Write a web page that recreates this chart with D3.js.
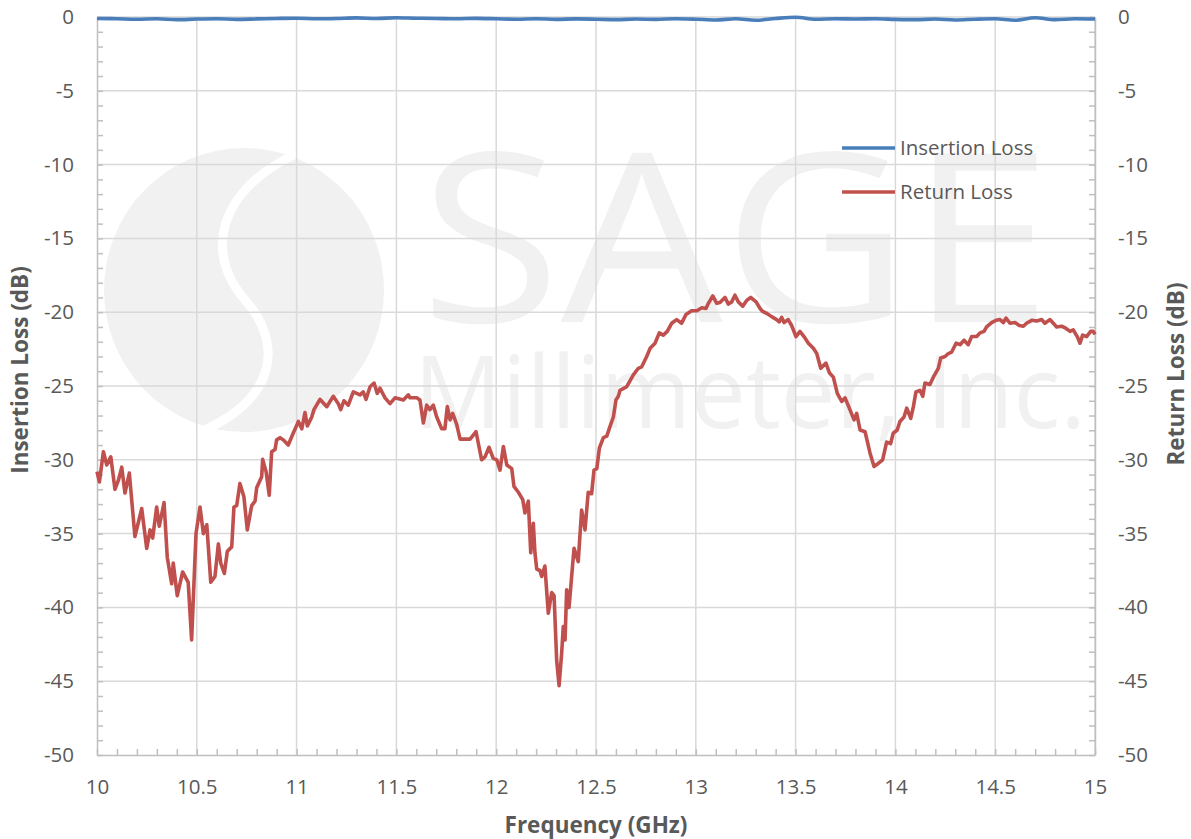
<!DOCTYPE html>
<html>
<head>
<meta charset="utf-8">
<script src="https://cdn.jsdelivr.net/npm/d3@7"></script>
<style>
  body { margin: 0; background: #fff; }
  svg text { font-family: "Open Sans", "DejaVu Sans", sans-serif; }
</style>
</head>
<body>
<svg id="chart" width="1191" height="839"></svg>
<script>
// insertion loss, one point every 0.1 GHz from 10 to 15
var ilFreq = d3.range(0, 51).map(function(i){ return +(10 + i * 0.1).toFixed(1); });
var ilValues = [-0.10,-0.12,-0.15,-0.12,-0.18,-0.14,-0.12,-0.16,-0.13,-0.10,
                -0.08,-0.12,-0.10,-0.06,-0.10,-0.05,-0.08,-0.10,-0.12,-0.09,
                -0.12,-0.15,-0.12,-0.16,-0.13,-0.15,-0.18,-0.14,-0.16,-0.12,
                -0.15,-0.20,-0.12,-0.22,-0.10,-0.02,-0.15,-0.12,-0.14,-0.12,
                -0.16,-0.18,-0.14,-0.20,-0.15,-0.12,-0.22,-0.05,-0.18,-0.12,-0.14];

// return loss
var rlFreq = [10.000,10.012,10.032,10.049,10.069,10.090,10.107,10.124,10.140,10.162,
  10.190,10.224,10.249,10.266,10.279,10.299,10.312,10.336,10.352,10.374,10.382,10.402,
  10.429,10.457,10.474,10.496,10.516,10.533,10.550,10.570,10.591,10.608,10.620,10.638,
  10.653,10.675,10.686,10.700,10.716,10.736,10.753,10.775,10.792,10.800,10.825,10.830,
  10.847,10.863,10.875,10.892,10.900,10.917,10.933,10.958,10.983,11.009,11.026,11.042,
  11.054,11.076,11.087,11.117,11.151,11.184,11.209,11.221,11.237,11.259,11.284,11.318,
  11.334,11.348,11.368,11.388,11.404,11.418,11.443,11.468,11.493,11.535,11.560,11.568,
  11.602,11.618,11.635,11.652,11.668,11.685,11.702,11.727,11.743,11.755,11.769,11.782,
  11.802,11.819,11.869,11.899,11.927,11.944,11.964,11.985,12.003,12.019,12.036,12.053,
  12.078,12.089,12.111,12.133,12.144,12.161,12.173,12.186,12.194,12.203,12.219,12.228,
  12.244,12.261,12.278,12.290,12.303,12.315,12.328,12.336,12.345,12.353,12.365,12.378,
  12.390,12.411,12.428,12.445,12.461,12.478,12.490,12.504,12.517,12.537,12.554,12.570,
  12.587,12.600,12.612,12.620,12.654,12.687,12.712,12.729,12.754,12.771,12.796,12.817,
  12.837,12.857,12.879,12.904,12.929,12.951,12.979,13.005,13.030,13.051,13.063,13.085,
  13.105,13.121,13.146,13.163,13.180,13.196,13.213,13.235,13.255,13.275,13.302,13.322,
  13.335,13.358,13.380,13.405,13.418,13.430,13.442,13.463,13.480,13.502,13.522,13.542,
  13.564,13.589,13.606,13.626,13.652,13.669,13.689,13.709,13.731,13.748,13.769,13.793,
  13.806,13.823,13.848,13.873,13.893,13.914,13.936,13.956,13.976,13.989,14.009,14.023,
  14.043,14.057,14.077,14.090,14.103,14.123,14.137,14.148,14.173,14.190,14.215,14.227,
  14.249,14.265,14.282,14.304,14.324,14.344,14.365,14.382,14.407,14.424,14.444,14.457,
  14.482,14.504,14.524,14.541,14.554,14.574,14.599,14.621,14.641,14.657,14.683,14.708,
  14.733,14.749,14.774,14.791,14.808,14.833,14.855,14.875,14.891,14.911,14.925,14.938,
  14.958,14.978,14.991,15.000];
var rlValues = [-30.8,-31.5,-29.45,-30.35,-29.8,-32.0,-31.4,-30.5,-32.25,-30.9,
  -35.2,-33.3,-36.0,-34.75,-35.3,-33.2,-34.5,-32.9,-36.6,-38.4,-37.0,-39.2,
  -37.6,-38.3,-42.2,-35.0,-33.2,-35.0,-34.4,-38.3,-37.9,-35.7,-37.0,-37.7,
  -36.2,-35.9,-33.2,-33.1,-31.6,-32.5,-34.75,-33.1,-32.8,-31.9,-31.15,-29.97,
  -30.8,-32.4,-29.45,-29.3,-28.65,-28.5,-28.65,-29.0,-28.2,-27.4,-27.9,-26.8,
  -27.7,-27.1,-26.6,-25.9,-26.4,-25.7,-26.2,-26.6,-26.0,-26.3,-25.4,-25.6,
  -25.4,-25.9,-25.05,-24.8,-25.5,-25.15,-25.8,-26.2,-25.8,-25.95,-25.6,-25.8,
  -25.8,-25.95,-27.5,-26.3,-26.6,-26.3,-27.1,-27.9,-27.9,-26.4,-27.3,-26.85,
  -27.6,-28.6,-28.6,-28.1,-30.0,-29.8,-29.15,-29.9,-30.0,-30.7,-29.1,-30.35,
  -30.6,-31.8,-32.2,-32.7,-33.6,-32.8,-36.3,-34.3,-36.3,-37.4,-37.5,-37.9,
  -37.2,-40.4,-39.0,-39.2,-43.6,-45.3,-43.1,-41.3,-42.2,-38.8,-40.0,-37.9,
  -36.0,-36.9,-33.4,-34.75,-32.2,-32.3,-30.7,-30.6,-29.2,-28.5,-28.4,-27.75,
  -27.1,-25.95,-25.7,-25.3,-25.05,-24.25,-23.8,-23.7,-23.0,-22.45,-22.1,-21.4,
  -21.55,-21.3,-20.75,-20.5,-20.75,-20.15,-19.9,-19.9,-19.7,-19.75,-19.4,-18.9,
  -19.4,-19.35,-19.0,-19.45,-19.3,-18.85,-19.3,-19.6,-19.2,-19.0,-19.3,-19.75,
  -19.95,-20.1,-20.3,-20.5,-20.65,-20.35,-20.7,-20.5,-20.9,-21.65,-21.3,-21.65,
  -22.1,-22.45,-22.8,-23.8,-23.45,-24.1,-24.4,-25.5,-26.05,-25.8,-26.5,-27.3,
  -26.85,-27.98,-28.1,-29.55,-30.45,-30.25,-30.0,-28.8,-28.9,-28.2,-27.98,-27.4,
  -27.1,-26.5,-27.2,-26.4,-25.4,-25.3,-25.7,-24.8,-24.9,-24.4,-23.8,-23.1,
  -23.0,-22.8,-22.7,-22.1,-22.2,-21.9,-22.2,-21.65,-21.65,-21.4,-21.3,-21.0,
  -20.7,-20.55,-20.5,-20.7,-20.4,-20.75,-20.7,-20.9,-20.95,-20.75,-20.55,-20.6,
  -20.5,-20.75,-20.5,-20.75,-21.0,-20.95,-21.1,-21.3,-21.2,-21.65,-22.1,-21.55,
  -21.65,-21.3,-21.3,-21.5];

var xTicks = [10, 10.5, 11, 11.5, 12, 12.5, 13, 13.5, 14, 14.5, 15];
var yTicks = [0, -5, -10, -15, -20, -25, -30, -35, -40, -45, -50];
var seriesNames = ["Insertion Loss", "Return Loss"];
var seriesColors = ["#4a7ebb", "#c0504d"];

var svg = d3.select("#chart");
var plot = {left: 97, right: 1095, top: 17, bottom: 755};

var x = d3.scaleLinear().domain([10, 15]).range([plot.left, plot.right]);
var y = d3.scaleLinear().domain([-50, 0]).range([plot.bottom, plot.top]);

// plain hyphen for negatives, like the original
var fmt = function(d){ return String(d); };

// watermark
var wmColor = "#f1f1f1";
var wm = svg.append("g").attr("class", "watermark");
wm.append("ellipse").attr("cx", 244).attr("cy", 290).attr("rx", 140).attr("ry", 142)
  .attr("fill", wmColor);
wm.append("path")
  .attr("d", "M300,152 C215,190 205,255 245,300 C285,345 275,400 200,432")
  .attr("fill", "none").attr("stroke", "#fff").attr("stroke-width", 9);
wm.append("text").attr("x", 420).attr("y", 322)
  .attr("textLength", 632).attr("lengthAdjust", "spacingAndGlyphs")
  .style("font-size", "236px").style("font-weight", 400).attr("fill", wmColor)
  .text("SAGE");
wm.append("text").attr("x", 414).attr("y", 428)
  .attr("textLength", 672).attr("lengthAdjust", "spacingAndGlyphs")
  .style("font-size", "100px").style("font-weight", 400).attr("fill", wmColor)
  .text("Millimeter, Inc.");

// grid
svg.append("g").selectAll("line").data(xTicks.slice(1)).enter().append("line")
  .attr("x1", function(d){ return x(d); }).attr("x2", function(d){ return x(d); })
  .attr("y1", plot.top).attr("y2", plot.bottom)
  .attr("stroke", "#d9d9d9").attr("stroke-width", 1.5);
svg.append("g").selectAll("line").data(yTicks.slice(0, -1)).enter().append("line")
  .attr("x1", plot.left).attr("x2", plot.right)
  .attr("y1", function(d){ return y(d); }).attr("y2", function(d){ return y(d); })
  .attr("stroke", "#d9d9d9").attr("stroke-width", 1.5);

// axes
var axisColor = "#bfbfbf", labelColor = "#595959";

function styleAxis(g){
  g.select(".domain").attr("stroke", axisColor).attr("stroke-width", 1.5);
  g.selectAll(".tick line").attr("stroke", axisColor).attr("stroke-width", 1.5);
  g.selectAll("text").attr("fill", labelColor).style("font-size", "20.5px")
    .style("font-family", "'Open Sans', sans-serif");
}

var minorX = d3.range(0, 51).map(function(i){ return 10 + i * 0.1; });
svg.append("g").attr("transform", "translate(0," + plot.bottom + ")")
  .call(d3.axisTop(x).tickValues(minorX).tickSize(6).tickFormat("").tickSizeOuter(0))
  .call(styleAxis);
svg.append("g").attr("transform", "translate(0," + plot.bottom + ")")
  .call(d3.axisBottom(x).tickValues(xTicks).tickSize(0).tickPadding(24).tickFormat(fmt))
  .call(styleAxis)
  .call(function(g){ g.select(".domain").remove(); });

var minorY = d3.range(-50, 1);
svg.append("g").attr("transform", "translate(" + plot.left + ",0)")
  .call(d3.axisRight(y).tickValues(minorY).tickSize(6).tickFormat("").tickSizeOuter(0))
  .call(styleAxis);
svg.append("g").attr("transform", "translate(" + plot.left + ",0)")
  .call(d3.axisLeft(y).tickValues(yTicks).tickSize(0).tickPadding(23).tickFormat(fmt))
  .call(styleAxis)
  .call(function(g){ g.select(".domain").remove(); });

svg.append("g").attr("transform", "translate(" + plot.right + ",0)")
  .call(d3.axisLeft(y).tickValues(minorY).tickSize(6).tickFormat("").tickSizeOuter(0))
  .call(styleAxis);
svg.append("g").attr("transform", "translate(" + plot.right + ",0)")
  .call(d3.axisRight(y).tickValues(yTicks).tickSize(0).tickPadding(23).tickFormat(fmt))
  .call(styleAxis)
  .call(function(g){ g.select(".domain").remove(); });

// axis titles
var midY = (plot.top + plot.bottom) / 2;
var titleSize = "22.5px";
svg.append("text").attr("x", (plot.left + plot.right) / 2).attr("y", 833)
  .attr("text-anchor", "middle").attr("fill", labelColor)
  .style("font-size", titleSize).style("font-weight", "bold")
  .text("Frequency (GHz)");
svg.append("text").attr("transform", "translate(28," + (midY - 16) + ") rotate(-90)")
  .attr("text-anchor", "middle").attr("fill", labelColor)
  .style("font-size", titleSize).style("font-weight", "bold")
  .text("Insertion Loss (dB)");
svg.append("text").attr("transform", "translate(1184," + (midY - 12) + ") rotate(-90)")
  .attr("text-anchor", "middle").attr("fill", labelColor)
  .style("font-size", titleSize).style("font-weight", "bold")
  .text("Return Loss (dB)");

// series
var line = d3.line()
  .x(function(d){ return x(d[0]); })
  .y(function(d){ return y(d[1]); });

var ilData = d3.zip(ilFreq, ilValues);
var rlData = d3.zip(rlFreq, rlValues);

svg.append("path").datum(rlData)
  .attr("d", line).attr("fill", "none")
  .attr("stroke", seriesColors[1]).attr("stroke-width", 3.6)
  .attr("stroke-linejoin", "round");
svg.append("path").datum(ilData)
  .attr("d", line.curve(d3.curveMonotoneX)).attr("fill", "none")
  .attr("stroke", seriesColors[0]).attr("stroke-width", 3.6)
  .attr("stroke-linejoin", "round");

// legend
var legend = svg.append("g").selectAll("g").data(seriesNames).enter().append("g")
  .attr("transform", function(d, i){ return "translate(842," + (148 + i * 44) + ")"; });
legend.append("line").attr("x1", 0).attr("x2", 53)
  .attr("stroke", function(d, i){ return seriesColors[i]; }).attr("stroke-width", 3.6);
legend.append("text").attr("x", 58).attr("y", 7)
  .attr("fill", labelColor).style("font-size", "20.5px")
  .text(function(d){ return d; });
</script>
</body>
</html>
